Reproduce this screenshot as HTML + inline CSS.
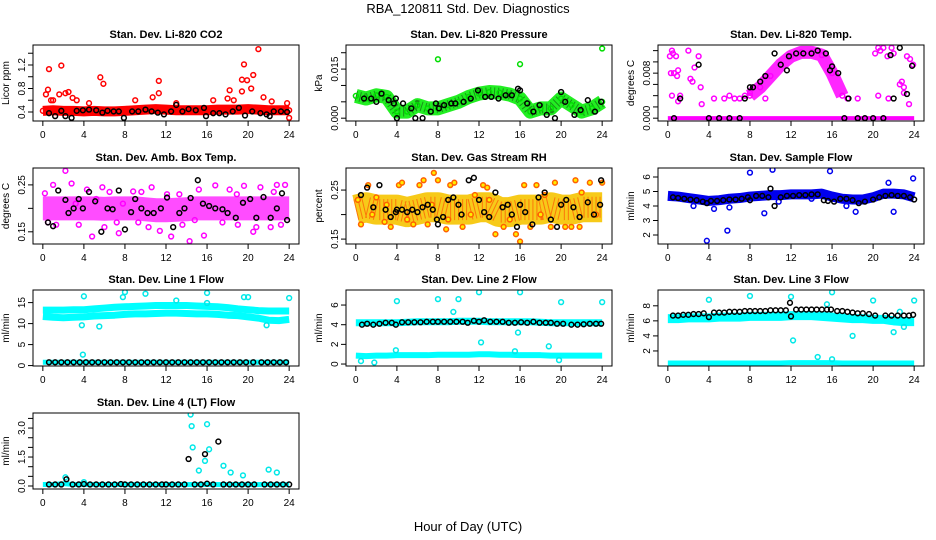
<!DOCTYPE html>
<html><head><meta charset="utf-8"><style>
body{margin:0;background:#fff}
svg{display:block;font-family:"Liberation Sans",sans-serif}
</style></head><body>
<svg id="c" width="936" height="540" viewBox="0 0 936 540">
<text x="468" y="13" text-anchor="middle" font-size="13">RBA_120811  Std. Dev. Diagnostics</text>
<text x="468" y="531" text-anchor="middle" font-size="13">Hour of Day (UTC)</text>
</svg>
<script>
const HOURS=[0,1,2,3,4,5,6,7,8,9,10,11,12,13,14,15,16,17,18,19,20,21,22,23,24];
const XTICKS=[0,4,8,12,16,20,24];
// P1 CO2
const co2Band=[0.42,0.43,0.42,0.42,0.41,0.42,0.41,0.41,0.42,0.43,0.44,0.45,0.44,0.43,0.43,0.43,0.43,0.44,0.44,0.44,0.45,0.44,0.43,0.43,0.43];
const co2OutX=[0.3,0.5,0.6,0.8,1.0,1.8,1.6,2.2,2.5,2.9,3.3,4.5,5.6,5.9,9.0,10.7,11.3,11.3,13,16.6,18.2,18.0,18.6,19.4,19.4,19.6,19.9,20.3,20.5,21.0,21.5,22.3,23.8,24.0];
const co2OutY=[0.7,0.78,1.13,0.6,0.6,1.19,0.7,0.72,0.74,0.64,0.6,0.55,0.99,0.88,0.6,0.65,0.93,0.72,0.55,0.6,0.77,0.63,0.6,0.95,0.75,1.21,0.94,0.8,1.03,1.47,0.65,0.58,0.55,0.3];
const co2BlkX=[0.6,1.2,1.8,2.2,2.8,3.3,3.9,4.5,5.2,5.8,6.3,6.9,7.4,7.9,8.7,9.3,10,10.6,11.2,11.8,12.5,13,13.6,14.2,14.9,15.7,15.9,16.6,17.2,17.8,18.5,19.1,19.7,20.4,21.2,21.8,22.1,22.5,23.2,23.8];
const co2BlkY=[0.38,0.33,0.42,0.33,0.3,0.42,0.43,0.44,0.43,0.39,0.42,0.41,0.41,0.3,0.41,0.41,0.44,0.41,0.39,0.36,0.41,0.52,0.41,0.45,0.43,0.47,0.33,0.38,0.38,0.36,0.41,0.47,0.34,0.41,0.38,0.36,0.33,0.41,0.41,0.4];
// P2 Pressure
const presBand=[0.0068,0.006,0.007,0.0065,0.002,0.002,0.004,0.003,0.003,0.004,0.005,0.0065,0.0075,0.008,0.0078,0.0072,0.006,0.002,0.003,0.003,0.006,0.004,0.002,0.003,0.005];
const presOutX=[8,16,24];
const presOutY=[0.018,0.0165,0.0213];
const presBlkX=[0.8,1.5,2.0,2.5,3.2,3.7,3.9,4.0,4.6,5.4,5.8,6.5,7.3,7.8,8.1,8.6,9.3,9.7,10.5,11.2,11.9,12.6,13.2,13.9,14.6,15.2,15.8,16.0,16.7,17.3,17.9,18.6,19.4,20.0,20.4,21.3,21.9,22.6,23.3,23.9];
const presBlkY=[0.006,0.006,0.005,0.0075,0.0055,0.0045,0.006,0,0.0045,0.003,0,0,0.002,0.0045,0.003,0.004,0.0045,0.0045,0.005,0.006,0.0085,0.0065,0.0065,0.006,0.007,0.007,0.009,0.0085,0.0045,0.002,0.004,0.001,0,0.008,0.005,0.001,0.0025,0.0055,0.002,0.005];
// P3 Temp
const tempBandX=[8,9,10,11,12,13,14,15,16,17];
const tempBandY=[0.004,0.0055,0.0075,0.0095,0.011,0.0117,0.0117,0.0112,0.008,0.004];
const tempZeroX=[0,8.5,17,24];
const tempZeroY=[0,0,0,0];
const tempOutX=[0.2,0.4,0.5,0.8,0.3,0.6,0.9,1.0,0.4,2.0,2.2,2.4,2.6,3.0,3.2,3.3,1.0,1.2,4.5,5.5,6.0,6.5,7.0,7.5,8.0,9.5,20.2,20.5,20.7,21.0,21.4,21.8,22.0,22.6,22.8,23.0,23.3,23.6,23.9,17.5,18.5,20.5,21.5,23.0,23.5];
const tempOutY=[0.011,0.012,0.0115,0.011,0.008,0.008,0.0075,0.0085,0.004,0.012,0.007,0.0065,0.009,0.011,0.0055,0.0025,0.003,0.004,0.0035,0.0035,0.004,0.0035,0.0035,0.004,0.0045,0.0035,0.0115,0.0125,0.012,0.0125,0.011,0.0125,0.0115,0.006,0.0065,0.0055,0.011,0.0105,0.0095,0.0035,0.0035,0.004,0.0035,0.0045,0.0025];
const tempBlkX=[0.6,1.2,3.0,4.0,5.0,6.0,7.0,7.5,8.0,8.3,9.0,9.5,10.4,11.0,11.6,11.8,12.5,13.2,14.0,14.6,15.4,15.8,16.0,16.6,17.2,17.6,18.5,19.2,20.0,21.0,21.7,22.6,23.3,23.8,22.0];
const tempBlkY=[0,0.0035,0.0095,0,0,0,0,0.0035,0.0055,0.0055,0.0065,0.0075,0.0115,0.0095,0.0085,0.0110,0.0115,0.0115,0.0115,0.0120,0.0115,0.0085,0.0092,0.0080,0,0.0035,0,0,0,0,0.0112,0.0125,0.0043,0.0093,0.0035];
// P4 Amb box temp
const ambBand=[0.2,0.2,0.2,0.2,0.2,0.2,0.199,0.2,0.2,0.2,0.198,0.196,0.196,0.197,0.198,0.2,0.2,0.2,0.2,0.2,0.2,0.2,0.2,0.2,0.2];
const ambOutX=[0.2,0.5,2.2,1.3,2.8,3.5,4.3,4.8,5.2,6.0,6.5,7.4,7.8,8.8,9.3,10.6,11.4,12.5,13.3,14.3,14.8,15.7,16.8,18.2,19.0,19.6,20.5,21.2,22.2,22.8,23.2,23.6,3.2,5.8,7.2,9.6,10.3,12.1,13.6,15.2,17.5,18.9,20.8,22.5,1.0];
const ambOutY=[0.232,0.17,0.28,0.165,0.253,0.165,0.24,0.14,0.22,0.16,0.235,0.147,0.21,0.236,0.17,0.245,0.152,0.14,0.23,0.13,0.175,0.142,0.249,0.24,0.165,0.248,0.15,0.245,0.16,0.25,0.165,0.25,0.21,0.245,0.17,0.235,0.16,0.23,0.165,0.24,0.17,0.23,0.16,0.235,0.25];
const ambBlkX=[0.5,1.0,1.5,2.2,2.5,3.0,3.5,3.9,4.5,5.1,5.7,6.3,6.8,7.4,8.0,8.6,9.0,9.6,10.2,10.8,11.5,12.1,12.7,13.3,13.8,14.4,15.1,15.6,16.2,16.8,17.5,18.0,18.8,19.5,20.2,20.8,21.5,22.2,22.8,23.3,23.8];
const ambBlkY=[0.17,0.162,0.238,0.218,0.19,0.2,0.22,0.2,0.235,0.215,0.15,0.2,0.198,0.238,0.155,0.192,0.22,0.2,0.19,0.19,0.2,0.223,0.16,0.19,0.2,0.222,0.26,0.21,0.205,0.2,0.198,0.19,0.18,0.212,0.22,0.18,0.224,0.18,0.2,0.232,0.175];
// P5 RH
const rhBand=[0.21,0.215,0.21,0.21,0.21,0.205,0.21,0.215,0.215,0.21,0.21,0.21,0.215,0.215,0.205,0.205,0.21,0.21,0.21,0.215,0.21,0.21,0.215,0.215,0.215];
const rhOutX=[0.2,0.5,1.2,2.0,2.8,3.4,4.2,4.5,5.0,5.6,6.2,6.6,7.0,7.4,7.6,8.0,8.8,9.2,9.6,10.4,11.2,11.6,12.4,12.8,13.6,14.4,15.0,15.6,16.0,16.4,17.0,17.6,18.4,19.0,19.4,20.4,21.0,21.4,22.0,22.8,23.4,24.0,3.0,9.0,13.0,18.0,21.8,1.6];
const rhOutY=[0.23,0.18,0.26,0.235,0.185,0.175,0.26,0.265,0.19,0.18,0.26,0.27,0.18,0.22,0.285,0.27,0.17,0.26,0.265,0.175,0.2,0.24,0.26,0.255,0.16,0.175,0.19,0.16,0.145,0.26,0.175,0.26,0.24,0.175,0.265,0.175,0.175,0.27,0.245,0.265,0.2,0.265,0.22,0.19,0.23,0.2,0.175,0.2];
const rhBlkX=[0.5,1.1,1.7,2.3,2.9,3.4,3.9,4.0,4.5,5.0,5.5,6.0,6.5,7.0,7.5,7.9,8.0,8.5,9.0,9.5,10.0,10.3,11.0,11.5,12.0,12.5,13.0,13.6,14.3,14.8,15.2,15.7,16.0,16.5,17.2,17.8,18.4,19.0,19.6,20.0,20.5,21.2,21.8,22.6,23.2,23.8,23.9];
const rhBlkY=[0.24,0.255,0.215,0.26,0.21,0.195,0.205,0.21,0.21,0.205,0.21,0.205,0.215,0.22,0.21,0.19,0.18,0.195,0.23,0.235,0.22,0.2,0.27,0.275,0.23,0.205,0.195,0.245,0.215,0.22,0.2,0.175,0.22,0.205,0.18,0.235,0.245,0.19,0.175,0.22,0.23,0.215,0.195,0.225,0.2,0.22,0.27];
// P6 Sample flow
const sfBand=[4.7,4.65,4.55,4.45,4.35,4.4,4.5,4.55,4.65,4.7,4.75,4.75,4.8,4.8,4.8,4.85,4.65,4.5,4.45,4.45,4.6,4.85,4.85,4.8,4.6];
const sfOutX=[3.8,5.8,8,10.2,15.8,9.4,6,4.5,17.4,18.3,21.5,22,23.9,2.5,10.8,14.0];
const sfOutY=[1.6,2.3,6.3,6.5,6.4,3.5,3.9,3.8,4.0,3.6,5.6,3.6,5.9,4.0,4.3,4.5];
const sfBlkX=[0.5,1.0,1.6,2.2,2.8,3.4,3.8,4.2,4.8,5.4,6.0,6.6,7.2,7.8,8.0,8.6,9.2,9.8,10.0,10.4,11.0,11.6,12.2,12.8,13.4,14.0,14.6,15.2,15.6,16.2,16.8,17.4,18.0,18.6,19.2,20.0,20.6,21.2,21.8,22.4,23.0,23.6,24.0];
const sfBlkY=[4.6,4.55,4.5,4.45,4.4,4.3,4.2,4.35,4.35,4.4,4.45,4.45,4.5,4.6,4.4,4.7,4.7,4.6,5.2,4.0,4.6,4.7,4.7,4.75,4.75,4.8,4.8,4.4,4.35,4.3,4.5,4.5,4.4,4.2,4.3,4.45,4.6,4.7,4.75,4.7,4.7,4.6,4.45];
// P7 Line1
const l1BandA=[13.2,13.2,13.2,13.3,13.3,13.5,13.7,13.9,14.0,14.1,14.2,14.3,14.3,14.3,14.3,14.2,14.1,14.0,13.8,13.5,13.3,13.1,13.0,13.0,13.0];
const l1BandB=[11.7,11.5,11.4,11.5,11.6,11.8,11.9,12.0,12.2,12.3,12.3,12.4,12.5,12.5,12.4,12.3,12.3,12.2,12.0,11.9,11.6,11.3,10.8,10.7,11.0];
const l1Low=[0.8,0.8,0.8,0.8,0.8,0.8,0.8,0.8,0.8,0.8,0.8,0.8,0.8,0.8,0.8,0.8,0.8,0.8,0.8,0.8,0.8,0.8,0.8,0.8,0.8];
const l1OutX=[3.9,4.0,3.8,5.5,8,10,16,16,20,19.6,24,7.8,13,21.8];
const l1OutY=[2.6,16.5,9.6,9.3,17.5,17.1,17.3,14.9,16.3,16.3,16.1,16.3,15.5,9.6];
const l1BlkX=[0.6,1.2,1.8,2.4,3.0,3.6,4.2,4.8,5.4,6.0,6.6,7.2,7.8,8.4,9.0,9.6,10.2,10.8,11.4,12.0,12.6,13.2,13.8,14.4,15.0,15.6,16.2,16.8,17.4,18.0,18.6,19.2,19.8,20.5,21.3,21.9,22.5,23.1,23.7];
const l1BlkY=[0.8,0.8,0.8,0.8,0.8,0.8,0.8,0.8,0.8,0.8,0.8,0.8,0.8,0.8,0.8,0.8,0.8,0.8,0.8,0.8,0.8,0.8,0.8,0.8,0.8,0.8,0.8,0.8,0.8,0.8,0.8,0.8,0.8,0.8,0.8,0.8,0.8,0.8,0.8];
// P8 Line2
const l2Band=[4.2,4.2,4.2,4.2,4.2,4.25,4.3,4.3,4.3,4.3,4.35,4.35,4.35,4.3,4.3,4.3,4.3,4.3,4.25,4.2,4.2,4.2,4.2,4.2,4.2];
const l2Low=[0.85,0.8,0.85,0.85,0.9,0.9,0.9,0.9,0.95,0.95,0.95,0.95,1.0,1.0,0.95,0.95,0.9,0.9,0.9,0.85,0.85,0.85,0.85,0.85,0.85];
const l2OutX=[4,8,10,12,16,24,20,9.5,12.2,15.8,18.8,15.5,3.9,0.5,1.8,19.8];
const l2OutY=[6.4,6.6,6.6,7.3,7.3,6.3,6.3,5.3,2.2,3.2,1.8,1.3,1.4,0.3,0.15,0.4];
const l2BlkX=[0.6,1.1,1.7,2.3,2.9,3.5,3.9,4.5,5.1,5.7,6.3,6.9,7.5,8.0,8.6,9.2,9.8,10.4,10.9,11.5,12.0,12.5,13.1,13.7,14.3,14.9,15.5,16.1,16.7,17.3,17.9,18.5,19.0,19.6,20.2,21.0,21.6,22.2,22.8,23.4,23.9];
const l2BlkY=[4.0,4.1,4.0,4.1,4.2,4.2,4.0,4.25,4.25,4.25,4.25,4.3,4.3,4.3,4.3,4.3,4.3,4.3,4.2,4.4,4.3,4.45,4.3,4.3,4.3,4.2,4.2,4.25,4.2,4.3,4.2,4.2,4.2,4.1,4.1,4.0,4.0,4.05,4.1,4.1,4.1];
// P9 Line3
const l3Band=[6.3,6.3,6.4,6.4,6.4,6.5,6.5,6.5,6.6,6.6,6.6,6.6,6.7,6.7,6.7,6.6,6.5,6.4,6.3,6.3,6.2,6.2,6.0,5.9,5.9];
const l3Low=[0.4,0.4,0.4,0.4,0.4,0.4,0.4,0.4,0.4,0.4,0.4,0.4,0.45,0.45,0.45,0.45,0.45,0.4,0.4,0.4,0.4,0.4,0.4,0.4,0.4];
const l3OutX=[4,8,12,16,15.5,20,24,12.2,18,22,14.6,16,23,22.6];
const l3OutY=[8.8,9.3,9.2,9.8,8.2,8.7,8.7,3.4,4.0,4.5,1.2,0.9,5.2,7.2];
const l3BlkX=[0.5,1.0,1.5,2.0,2.5,3.0,3.5,4.0,4.5,5.0,5.5,6.0,6.5,7.0,7.5,8.0,8.5,9.0,9.5,10.0,10.5,11.0,11.5,11.9,12.0,12.5,13.0,13.5,14.0,14.5,15.0,15.5,15.9,16.5,17.0,17.5,18.0,18.5,19.0,19.6,20.2,21.2,21.8,22.4,23.0,23.5,23.9];
const l3BlkY=[6.7,6.7,6.8,6.8,6.9,6.9,7.0,6.5,7.1,7.1,7.1,7.2,7.2,7.2,7.3,7.3,7.3,7.3,7.3,7.4,7.4,7.4,7.4,8.4,6.6,7.5,7.5,7.5,7.5,7.5,7.5,7.5,7.5,7.3,7.3,7.2,7.1,7.0,7.0,6.9,6.7,6.7,6.7,6.7,6.7,6.7,6.8];
// P10 Line4
const l4Band=[0.08,0.08,0.12,0.08,0.08,0.08,0.08,0.08,0.08,0.08,0.08,0.08,0.08,0.08,0.08,0.08,0.08,0.08,0.08,0.08,0.08,0.08,0.08,0.08,0.08];
const l4OutX=[2.2,4,14.4,14.5,14.6,16,15.8,16.2,15.2,17.6,18.3,19.5,22,22.8];
const l4OutY=[0.45,0.2,3.7,3.1,2.0,3.2,1.3,1.9,0.8,1.05,0.7,0.55,0.85,0.7];
const l4BlkX=[0.6,1.2,1.8,2.3,2.9,3.5,4.0,4.6,5.2,5.8,6.4,7.0,7.6,8.0,8.6,9.2,9.8,10.4,11.0,11.6,12.0,12.6,13.2,13.8,14.2,14.8,15.4,15.8,16.0,16.6,17.1,17.6,18.2,18.8,19.4,20.0,20.6,21.6,22.2,22.8,23.4,24.0];
const l4BlkY=[0.08,0.08,0.08,0.35,0.08,0.08,0.1,0.08,0.08,0.08,0.08,0.08,0.1,0.08,0.08,0.08,0.08,0.08,0.08,0.08,0.08,0.08,0.08,0.08,1.4,0.08,0.08,1.65,0.12,0.08,2.3,0.08,0.08,0.08,0.08,0.08,0.08,0.08,0.08,0.08,0.08,0.08];

const NS='http://www.w3.org/2000/svg';
const svg=document.getElementById('c');
function mk(tag,attrs,parent){const e=document.createElementNS(NS,tag);for(const k in attrs)e.setAttribute(k,attrs[k]);(parent||svg).appendChild(e);return e;}
const COLX=[33,346,658], ROWY=[45,168,290,413], W=266, H=76;
function panel(col,row,title,ylab,ylim,yticks,ylabels,name){
  const x0=COLX[col],y0=ROWY[row];
  const g=mk('g',{});
  
  
  const sx=v=>x0+9.84+(v/24)*(W-19.68);
  const sy=v=>y0+H-(v-ylim[0])/(ylim[1]-ylim[0])*H;
  const t=mk('text',{x:x0+W/2,y:y0-7,'text-anchor':'middle','font-size':'11','font-weight':'bold'},g);t.textContent=title;
  
  
  const yl=mk('text',{x:0,y:0,'text-anchor':'middle','font-size':'10',transform:`translate(${x0-24},${y0+H/2}) rotate(-90)`},g);yl.textContent=ylab;
  
  
  const ax=mk('g',{stroke:'#000','stroke-width':'1',fill:'none'},g);
  XTICKS.forEach(v=>{mk('line',{x1:sx(v),x2:sx(v),y1:y0+H,y2:y0+H+5},ax);
    const tt=mk('text',{x:sx(v),y:y0+H+17,'text-anchor':'middle','font-size':'10',fill:'#000',stroke:'none'},g);tt.textContent=v;
    
    });
  mk('line',{x1:sx(0),x2:sx(24),y1:y0+H,y2:y0+H},ax);
  yticks.forEach((v,i)=>{mk('line',{x1:x0,x2:x0-5,y1:sy(v),y2:sy(v)},ax);
    if(ylabels[i]!==''){const tt=mk('text',{x:0,y:0,'text-anchor':'middle','font-size':'10',fill:'#000',stroke:'none',transform:`translate(${x0-8},${sy(v)}) rotate(-90)`},g);tt.textContent=ylabels[i];
    
    }});
  mk('line',{x1:x0,x2:x0,y1:sy(yticks[0]),y2:sy(yticks[yticks.length-1])},ax);
  const cid='clip'+col+row;
  const cp=mk('clipPath',{id:cid},g);mk('rect',{x:x0,y:y0,width:W,height:H},cp);
  const plot=mk('g',{'clip-path':`url(#${cid})`},g);
  const bx=mk('rect',{x:x0,y:y0,width:W,height:H,fill:'none',stroke:'#000','stroke-width':'1'},g);
  
  
  return {band(xs,ys,color,width,fill,op){const p=mk('polyline',{points:xs.map((x,i)=>sx(x)+','+sy(ys[i])).join(' '),fill:'none',stroke:color,'stroke-width':width,'stroke-linejoin':'round','stroke-linecap':'butt','stroke-opacity':op||1},plot);
      
      
      if(fill){const q=mk('polyline',{points:xs.map((x,i)=>sx(x)+','+sy(ys[i])).join(' '),fill:'none',stroke:fill,'stroke-width':width*0.7,'stroke-dasharray':'1 3','stroke-opacity':'0.6'},plot);
      
      }},
    pts(xs,ys,color,fill){xs.forEach((x,i)=>{const c=mk('circle',{cx:sx(x),cy:sy(ys[i]),r:2.4,fill:fill||'none',stroke:color,'stroke-width':'1.5'},plot);
      
      });}};
}
let p;
p=panel(0,0,'Stan. Dev. Li-820 CO2','Licor ppm',[0.247,1.54],[0.4,0.6,0.8,1.0,1.2,1.4],['0.4','','0.8','','1.2',''],'panel-co2');
p.band(HOURS,co2Band,'#ff0000',10);p.pts(HOURS,co2Band,'#ff0000');p.pts(co2OutX,co2OutY,'#ff0000');p.pts(co2BlkX,co2BlkY,'#000');
p=panel(1,0,'Stan. Dev. Li-820 Pressure','kPa',[-0.00086,0.02236],[0,0.005,0.01,0.015,0.02],['0.000','','','0.015',''],'panel-pressure');
p.band(HOURS,presBand,'#22ee22',14,'#115511');p.pts(HOURS,presBand,'#00dd00');p.pts(presOutX,presOutY,'#00dd00');p.pts(presBlkX,presBlkY,'#000');
p=panel(2,0,'Stan. Dev. Li-820 Temp.','degrees C',[-0.0005,0.013],[0,0.002,0.004,0.006,0.008,0.010,0.012],['0.000','','','','0.008','',''],'panel-temp');
p.band(tempZeroX,tempZeroY,'#ff00ff',4);p.band(tempBandX,tempBandY,'#ff00ff',13,null,0.85);p.pts(tempBandX,tempBandY,'#ff00ff');p.pts(tempOutX,tempOutY,'#ff00ff');p.pts(tempBlkX,tempBlkY,'#000');
p=panel(0,1,'Stan. Dev. Amb. Box Temp.','degrees C',[0.124,0.286],[0.15,0.20,0.25],['0.15','','0.25'],'panel-amb-box-temp');
p.band(HOURS,ambBand,'#ff00ff',24,null,0.7);p.pts(ambOutX,ambOutY,'#ff00ff');p.pts(ambBlkX,ambBlkY,'#000');
p=panel(1,1,'Stan. Dev. Gas Stream RH','percent',[0.14,0.295],[0.15,0.20,0.25],['0.15','','0.25'],'panel-rh');
p.band(HOURS,rhBand,'#f6c400',30,'#ff4000',0.9);p.pts(rhOutX,rhOutY,'#ff6000','#ffee00');p.pts(rhBlkX,rhBlkY,'#000');
p=panel(2,1,'Stan. Dev. Sample Flow','ml/min',[1.38,6.62],[2,3,4,5,6],['2','3','4','5','6'],'panel-sample-flow');
p.band(HOURS,sfBand,'#0000ee',10);p.pts(sfOutX,sfOutY,'#0000ee');p.pts(sfBlkX,sfBlkY,'#000');
p=panel(0,2,'Stan. Dev. Line 1 Flow','ml/min',[-0.1,18.0],[0,5,10,15],['0','5','10','15'],'panel-line1-flow');
p.band(HOURS,l1BandA,'#00ffff',7);p.band(HOURS,l1BandB,'#00ffff',7);p.band(HOURS,l1Low,'#00ffff',5);p.pts(l1OutX,l1OutY,'#00e8e8');p.pts(l1BlkX,l1BlkY,'#000');
p=panel(1,2,'Stan. Dev. Line 2 Flow','ml/min',[-0.2,7.53],[0,2,4,6],['0','2','4','6'],'panel-line2-flow');
p.band(HOURS,l2Band,'#00ffff',7);p.band(HOURS,l2Low,'#00ffff',6);p.pts(l2OutX,l2OutY,'#00e8e8');p.pts(l2BlkX,l2BlkY,'#000');
p=panel(2,2,'Stan. Dev. Line 3 Flow','ml/min',[0,10.1],[2,4,6,8],['2','4','6','8'],'panel-line3-flow');
p.band(HOURS,l3Band,'#00ffff',9);p.band(HOURS,l3Low,'#00ffff',5);p.pts(l3OutX,l3OutY,'#00e8e8');p.pts(l3BlkX,l3BlkY,'#000');
p=panel(0,3,'Stan. Dev. Line 4 (LT) Flow','ml/min',[-0.155,3.78],[0,0.5,1.0,1.5,2.0,2.5,3.0,3.5],['0.0','','','1.5','','','3.0',''],'panel-line4-flow');
p.band(HOURS,l4Band,'#00ffff',5);p.pts(l4OutX,l4OutY,'#00e8e8');p.pts(l4BlkX,l4BlkY,'#000');
</script>
</body></html>
